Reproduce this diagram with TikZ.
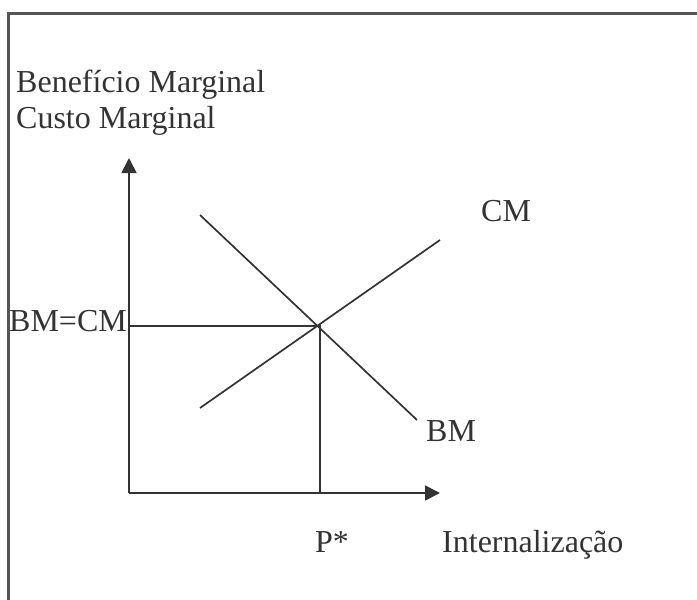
\documentclass[tikz,border=0pt]{standalone}
\usepackage{fontspec}
\setmainfont{Liberation Serif}
\usetikzlibrary{arrows.meta}
\definecolor{ink}{HTML}{333333}
\definecolor{frame}{HTML}{555555}
\tikzset{
  lbl/.style={anchor=base west, inner sep=0pt, text=ink, font=\fontsize{32}{38}\selectfont},
  axis/.style={draw=ink, line width=1.7pt, -{Triangle[length=15pt,width=15pt]}},
  curve/.style={draw=ink, line width=1.7pt},
  framel/.style={draw=frame, line width=2.4pt}
}
\begin{document}
\begin{tikzpicture}[x=1pt,y=-1pt]
\useasboundingbox (0,0) rectangle (697,600);
% frame (top and left edges)
\coordinate (F1) at (8.5,600);
\coordinate (F2) at (8.5,13.5);
\coordinate (F3) at (697,13.5);
\draw[framel] (F1) -- (F2) -- (F3);
% axes
\coordinate (O) at (129,493);
\coordinate (Ytip) at (129,158);
\coordinate (Xtip) at (440,493);
\draw[axis] (O) -- (Ytip);
\draw[axis] (O) -- (Xtip);
% equilibrium
\coordinate (E) at (320,326);
\coordinate (Ey) at (129,326);
\coordinate (Ex) at (320,493);
\draw[curve] (Ey) -- (E) -- (Ex);
% curves
\coordinate (CMa) at (200,408);
\coordinate (CMb) at (440,240);
\coordinate (BMa) at (200,215);
\coordinate (BMb) at (417,420);
\draw[curve] (CMa) -- (CMb);
\draw[curve] (BMa) -- (BMb);
% labels
\node[lbl] (t1) at (16,92) {Benefício Marginal};
\node[lbl] (t2) at (16,128) {Custo Marginal};
\node[lbl] (cm) at (481,221) {CM};
\node[lbl] (bmcm) at (9,331) {BM=CM};
\node[lbl] (bm) at (426,441) {BM};
\node[lbl] (p) at (315,552) {P*};
\node[lbl] (int) at (442,552) {Internalização};
\end{tikzpicture}
\end{document}
